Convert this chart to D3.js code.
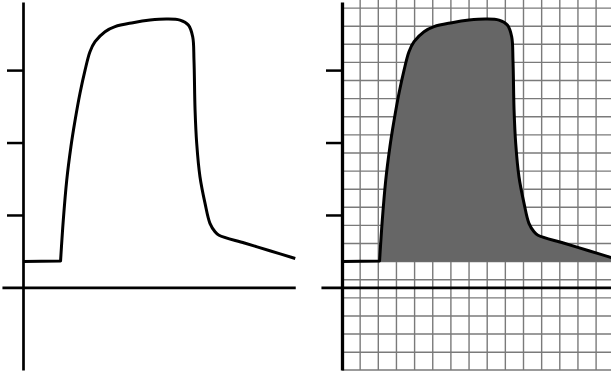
<!DOCTYPE html>
<html>
<head>
<meta charset="utf-8">
<script src="https://cdn.jsdelivr.net/npm/d3@7"></script>
<style>
  body { margin: 0; background: #fff; }
  svg { display: block; }
</style>
</head>
<body>
<script>
const width = 611;
const height = 374;

// curve (x in grid units, y in tick units)
const curveX = [0, 1, 2.07, 2.22, 2.41, 2.64, 2.865, 3.14, 3.42, 3.69, 3.97, 4.52, 5.07, 6.06, 7.0, 7.92, 8.65, 9.11, 9.35, 9.42, 9.48, 9.57, 9.75, 10.03, 10.3, 10.58, 10.8, 12.2, 13.6, 15];
const curveY = [0.358, 0.362, 0.366, 0.93, 1.482, 1.942, 2.30, 2.68, 3.0, 3.254, 3.392, 3.53, 3.60, 3.654, 3.69, 3.705, 3.69, 3.622, 3.46, 3.14, 2.45, 1.99, 1.528, 1.16, 0.885, 0.769, 0.72, 0.613, 0.507, 0.40];
const tickValues = [1, 2, 3];
const gridX = [1, 2, 3, 4, 5, 6, 7, 8, 9, 10, 11, 12, 13, 14];
const gridY = [-1.14, -0.894, -0.644, -0.394, -0.144, 0.106, 0.356, 0.606, 0.856, 1.106, 1.356, 1.606, 1.856, 2.106, 2.356, 2.606, 2.856, 3.106, 3.356, 3.606, 3.856];
const baseline = 0.356;
const stepIndex = 2; // the flat start ends here, a sharp corner

const data = curveX.map((x, i) => ({ x, y: curveY[i] }));
const flat = data.slice(0, stepIndex + 1);
const pulse = data.slice(stepIndex);

const svg = d3.select("body").append("svg")
  .attr("width", width)
  .attr("height", height);

const x = d3.scaleLinear().domain([0, 15]).range([0, 272.25]);
const y = d3.scaleLinear().domain([-1.14, 3.94]).range([370, 2]);
const xLine = d3.scaleLinear().domain([-1.16, 15]).range([x(-1.16), x(15)]);

const flatLine = d3.line()
  .x(d => x(d.x))
  .y(d => y(d.y));

const pulseLine = d3.line()
  .x(d => x(d.x))
  .y(d => y(d.y))
  .curve(d3.curveCatmullRom.alpha(0.5));

const area = d3.area()
  .x(d => x(d.x))
  .y0(y(baseline))
  .y1(d => y(d.y))
  .curve(d3.curveCatmullRom.alpha(0.5));

function drawPanel(g, withGrid, axisWidth) {
  if (withGrid) {
    g.append("g")
      .selectAll("line")
      .data(gridX)
      .join("line")
      .attr("x1", d => x(d))
      .attr("x2", d => x(d))
      .attr("y1", 0)
      .attr("y2", 370)
      .attr("stroke", "#7a7a7a")
      .attr("stroke-width", 1.4);

    g.append("g")
      .selectAll("line")
      .data(gridY)
      .join("line")
      .attr("x1", 0)
      .attr("x2", 280)
      .attr("y1", d => y(d))
      .attr("y2", d => y(d))
      .attr("stroke", "#7a7a7a")
      .attr("stroke-width", 1.4);

    g.append("path")
      .datum(pulse)
      .attr("d", area)
      .attr("fill", "#666666");
  }

  // x axis (just the line)
  g.append("g")
    .attr("transform", `translate(0,${y(0)})`)
    .call(d3.axisBottom(xLine).ticks(0).tickSizeOuter(0))
    .call(a => a.select(".domain").attr("stroke", "#000").attr("stroke-width", 2.6));

  // y axis with three bare ticks
  g.append("g")
    .call(d3.axisLeft(y).tickValues(tickValues).tickSize(16).tickSizeOuter(0).tickFormat(""))
    .call(a => a.select(".domain").attr("stroke", "#000").attr("stroke-width", axisWidth))
    .call(a => a.selectAll(".tick line").attr("stroke", "#000").attr("stroke-width", 2.5));

  g.append("path")
    .attr("d", flatLine(flat) + pulseLine(pulse).replace(/^M/, "L"))
    .attr("fill", "none")
    .attr("stroke", "#000")
    .attr("stroke-width", 3)
    .attr("stroke-linejoin", "round");
}

drawPanel(svg.append("g").attr("transform", "translate(23,0)"), false, 2.7);
drawPanel(svg.append("g").attr("transform", "translate(342,0)"), true, 3.3);
</script>
</body>
</html>
